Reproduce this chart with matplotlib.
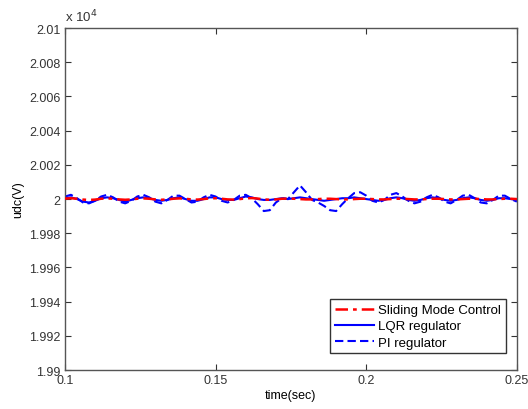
import numpy as np
import matplotlib
matplotlib.use("Agg")
import matplotlib.pyplot as plt

plt.rcParams['font.family'] = ['Liberation Sans', 'DejaVu Sans']

t = [0.100 + 0.002 * i for i in range(76)]
t = [round(v, 3) for v in t]

pi_dev = [1.5, 2.5, 0.5, -2.0, -2.5, -1.0, 1.5, 2.5, 1.0, -1.5,
          -2.5, -1.0, 1.5, 2.5, 1.0, -1.5, -2.5, -0.5, 2.0, 2.0,
          0.0, -2.0, -1.5, 1.0, 2.5, 1.5, -1.0, -2.0, -0.5, 2.0,
          2.5, 0.5, -3.0, -7.0, -6.5, -2.0, 0.5, 0.0, 4.0, 8.0,
          4.0, -0.5, -2.0, -4.0, -6.5, -7.0, -3.0, 0.5, 3.5, 4.0,
          2.0, -1.0, -2.0, -0.5, 2.5, 3.5, 1.5, -1.0, -2.5, -1.5,
          1.0, 2.5, 1.0, -1.5, -2.5, -0.5, 2.0, 2.5, 0.5, -2.0,
          -2.5, -0.5, 2.0, 2.0, 0.0, -1.5]

lqr_dev = [0.5, 1.0, 0.0, -1.5, -2.0, -1.0, 0.5, 1.0, 0.5, -0.5,
           -1.5, -0.5, 0.5, 1.0, 0.5, -0.5, -1.0, -0.5, 0.5, 1.0,
           0.0, -1.0, -1.0, 0.0, 1.0, 1.0, 0.0, -0.5, -0.5, 0.5,
           1.5, 1.0, 0.0, -0.5, -0.5, 0.0, 0.5, 0.0, 0.5, 1.0,
           0.5, 0.0, -0.5, -1.0, -0.5, 0.0, 0.5, 0.5, 1.0, 0.5,
           0.0, -0.5, -1.0, -0.5, 0.5, 1.0, 0.5, -0.5, -1.0, -0.5,
           0.5, 1.0, 0.5, -0.5, -1.0, -0.5, 0.5, 1.0, 0.5, -0.5,
           -1.0, -0.5, 0.5, 0.5, 0.0, -0.5]

smc_dev = [0.3, 0.5, 0.2, -0.3, -0.5, -0.3, 0.2, 0.4, 0.2, -0.2,
           -0.4, -0.2, 0.2, 0.4, 0.2, -0.2, -0.4, -0.2, 0.2, 0.4,
           0.2, -0.2, -0.3, 0.0, 0.4, 0.5, 0.2, -0.2, -0.3, 0.0,
           0.4, 0.6, 0.3, -0.2, -0.4, -0.2, 0.2, 0.3, 0.2, 0.0,
           -0.2, -0.2, 0.0, 0.2, 0.2, 0.0, -0.2, -0.2, 0.0, 0.2,
           0.2, 0.0, -0.2, -0.2, 0.0, 0.2, 0.2, 0.0, -0.2, -0.2,
           0.0, 0.2, 0.2, 0.0, -0.2, -0.2, 0.0, 0.2, 0.2, 0.0,
           -0.2, -0.2, 0.0, 0.2, 0.2, 0.0]

base = 20000.0
pi_vals = [base + d for d in pi_dev]
lqr_vals = [base + d for d in lqr_dev]
smc_vals = [base + d for d in smc_dev]

yticks = [19900, 19920, 19940, 19960, 19980, 20000, 20020, 20040, 20060, 20080, 20100]
ytick_labels = ['1.99', '1.992', '1.994', '1.996', '1.998', '2', '2.002', '2.004', '2.006', '2.008', '2.01']
xticks = [0.1, 0.15, 0.2, 0.25]
xtick_labels = ['0.1', '0.15', '0.2', '0.25']

fig = plt.figure(figsize=(5.28, 4.10), dpi=100)
ax = fig.add_axes([0.123, 0.095, 0.856, 0.834])

ax.plot(t, smc_vals, color='red', linestyle=(0, (5, 2, 1.5, 2)), linewidth=1.8,
        label='Sliding Mode Control', zorder=3)
ax.plot(t, lqr_vals, color='blue', linestyle='-', linewidth=1.5, label='LQR regulator', zorder=2)
ax.plot(t, pi_vals, color='blue', linestyle=(0, (4, 2)), linewidth=1.5, label='PI regulator', zorder=2)

ax.set_xlim(0.1, 0.25)
ax.set_ylim(19900, 20100)
ax.set_xticks(xticks)
ax.set_xticklabels(xtick_labels)
ax.set_yticks(yticks)
ax.set_yticklabels(ytick_labels)
ax.tick_params(direction='in', top=True, right=True, length=4, width=0.8,
               labelsize=9, colors='#333333', pad=3)
for s in ax.spines.values():
    s.set_color('#555555')
    s.set_linewidth(1.0)

ax.set_xlabel('time(sec)', fontsize=9, labelpad=2)
ax.set_ylabel('udc(V)', fontsize=9, labelpad=4)
ax.text(0.0, 1.01, r'x 10$^4$', transform=ax.transAxes, fontsize=9.5, ha='left', va='bottom', color='#333333')

leg = ax.legend(loc='lower right', fontsize=9.5, handlelength=3.0, fancybox=False,
                framealpha=1, edgecolor='#333333', borderpad=0.35, labelspacing=0.3,
                handletextpad=0.3, bbox_to_anchor=(0.99, 0.03))
leg.get_frame().set_linewidth(1.0)

fig.savefig('out.png', dpi=100)
